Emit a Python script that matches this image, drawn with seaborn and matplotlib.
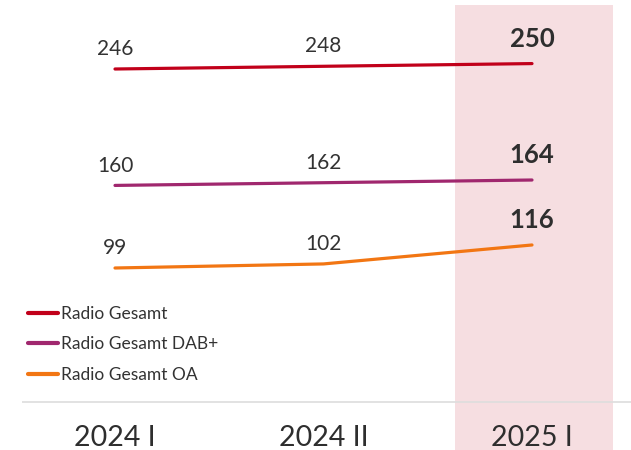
import matplotlib
matplotlib.use("Agg")
import matplotlib.pyplot as plt
import matplotlib.transforms as mtransforms
import seaborn as sns
import pandas as pd

categories = ["2024 I", "2024 II", "2025 I"]
radio_gesamt = [246, 248, 250]
radio_dab = [160, 162, 164]
radio_oa = [99, 102, 116]
series_names = ["Radio Gesamt", "Radio Gesamt DAB+", "Radio Gesamt OA"]
colors = ["#C1001A", "#A0276E", "#F27613"]

sns.set_theme(style="white")
plt.rcParams["font.family"] = ["Lato", "DejaVu Sans"]

rows = []
for name, vals in zip(series_names, [radio_gesamt, radio_dab, radio_oa]):
    for i, v in enumerate(vals):
        rows.append({"x": i, "cat": categories[i], "value": v, "series": name})
df = pd.DataFrame(rows)

W, H = 631, 450
fig = plt.figure(figsize=(W / 100, H / 100), dpi=100)
ax = fig.add_axes([0, 0, 1, 1])

# pixel mapping
x0, dx = 115, 208.5
def px2x(p):
    return (p - x0) / dx
ax.set_xlim(px2x(0), px2x(W))
ax.set_ylim(-35.45, 296.97)

# highlight band
ax.axvspan(px2x(455), px2x(613), ymin=0, ymax=(H - 5) / H, color="#F6DEE1", zorder=0, lw=0)

sns.lineplot(data=df, x="x", y="value", hue="series", palette=colors,
             hue_order=series_names, linewidth=2.3, ax=ax, legend=True, zorder=3)

# axis baseline
ax.plot([px2x(22), px2x(W)], [0, 0], color="#DDDDDD", lw=1.2, zorder=1, solid_capstyle="butt")

# data labels
for vals in [radio_gesamt, radio_dab, radio_oa]:
    for i, v in enumerate(vals):
        if i < 2:
            ax.annotate(f"{v}", (i, v), xytext=(0, 10), textcoords="offset points",
                        ha="center", va="baseline", fontsize=15, color="#333333")
        else:
            ax.annotate(f"{v}", (i, v), xytext=(0, 12.3), textcoords="offset points",
                        ha="center", va="baseline", fontsize=18.5, fontweight="bold",
                        color="#2E2E2E")

# category labels
trans = mtransforms.blended_transform_factory(ax.transData, fig.transFigure)
for i, c in enumerate(categories):
    ax.text(i, 1 - 446 / H, c, ha="center", va="baseline", transform=trans,
            fontsize=20.5, color="#2E2E2E")

ax.set_axis_off()

leg = ax.legend(loc="upper left", bbox_to_anchor=(28 / W, 1 - 306 / H),
                bbox_transform=fig.transFigure, frameon=False, fontsize=12.5,
                handlelength=1.72, handletextpad=0.17, labelspacing=0.83,
                borderpad=0, borderaxespad=0)
for t in leg.get_texts():
    t.set_color("#333333")
for line in leg.get_lines():
    line.set_linewidth(3)

fig.savefig("out.png", dpi=100)
